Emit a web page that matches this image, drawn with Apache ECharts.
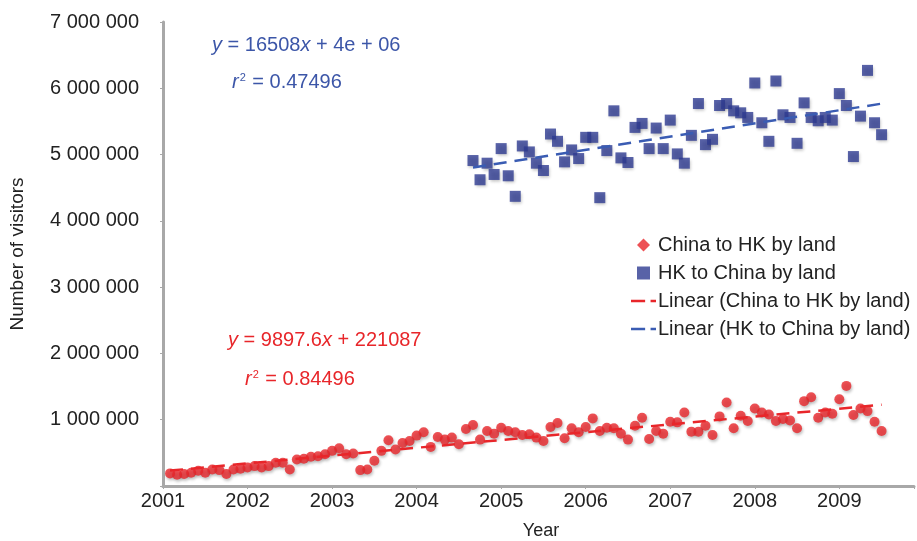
<!DOCTYPE html>
<html>
<head>
<meta charset="utf-8">
<script src="https://cdn.jsdelivr.net/npm/echarts@6/dist/echarts.min.js"></script>
<style>
html,body{margin:0;padding:0;background:#fff;}
#chart{width:917px;height:541px;}
</style>
</head>
<body>
<div id="chart"></div>
<script>
// Month index 1 = January 2001
const chinaStartMonth = 1;
const chinaToHK = [
  190000,170000,180000,200000,230000,200000,250000,240000,180000,250000,260000,280000,
  300000,280000,300000,350000,350000,250000,400000,410000,440000,450000,480000,530000,
  570000,480000,490000,240000,250000,380000,530000,690000,550000,650000,680000,760000,
  810000,590000,740000,700000,730000,630000,860000,920000,700000,830000,790000,880000,
  830000,810000,770000,780000,730000,680000,890000,950000,720000,870000,810000,890000,
  1020000,830000,880000,870000,790000,700000,910000,1030000,710000,830000,790000,970000,
  960000,1110000,820000,820000,910000,770000,1050000,1260000,870000,1060000,980000,1170000,
  1110000,1080000,980000,1010000,990000,870000,1280000,1340000,1030000,1110000,1090000,1310000,
  1510000,1070000,1170000,1130000,970000,830000
];
const hkStartMonth = 44;
const hkToChina = [
  4910000,4620000,4870000,4700000,5090000,4680000,4370000,5130000,5040000,4870000,
  4760000,5310000,5200000,4890000,5070000,4940000,5260000,5260000,4350000,5060000,
  5660000,4950000,4880000,5410000,5470000,5090000,5400000,5090000,5520000,5010000,
  4870000,5290000,5770000,5150000,5230000,5740000,5770000,5660000,5630000,5560000,
  6080000,5480000,5200000,6110000,5600000,5560000,5170000,5780000,5560000,5510000,
  5560000,5520000,5920000,5740000,4970000,5580000,6270000,5480000,5300000
];
const yearLabels = ['2001','2002','2003','2004','2005','2006','2007','2008','2009'];
const seriesNames = ['China to HK by land','HK to China by land','Linear (China to HK by land)','Linear (HK to China by land)'];
const eqRed = ['9897.6', '221087', '0.84496'];
const eqBlue = ['16508', '4e + 06', '0.47496'];

function toPoints(start, vals){ return vals.map((v,i)=>[start+i, v]); }
function trend(points){
  const n = points.length;
  let sx=0, sy=0, sxx=0, sxy=0;
  points.forEach(p=>{sx+=p[0]; sy+=p[1]; sxx+=p[0]*p[0]; sxy+=p[0]*p[1];});
  const b = (n*sxy - sx*sy)/(n*sxx - sx*sx);
  const a = (sy - b*sx)/n;
  const x0 = points[0][0], x1 = points[n-1][0];
  return [[x0, a+b*x0],[x1, a+b*x1]];
}
const redPts = toPoints(chinaStartMonth, chinaToHK);
const bluePts = toPoints(hkStartMonth, hkToChina);

const RED = '#e8262a', BLUE = '#2e3b91', BLUE_LINE = '#3a5cb3', BLUE_TXT = '#3c56a8';
const FONT = '"Liberation Sans", Arial, sans-serif';
const shadow = {shadowColor:'rgba(0,0,0,0.3)', shadowBlur:3, shadowOffsetX:1, shadowOffsetY:2};
const DASH_ICON = 'path://M0,0 H13 V2.4 H0 Z M18,0 H23 V2.4 H18 Z';

const chart = echarts.init(document.getElementById('chart'), null, {renderer:'canvas'});
const eqRich = (color)=>({
  i:{fontStyle:'italic', fontSize:20, fontFamily:FONT, fill:color},
  n:{fontSize:20, fontFamily:FONT, fill:color},
  s:{fontSize:11, fontFamily:FONT, fill:color, verticalAlign:'top', padding:[0,1,9,1]}
});
chart.setOption({
  animation:false,
  textStyle:{fontFamily:FONT},
  grid:{left:163, right:2, top:22, bottom:55},
  xAxis:{
    type:'value', min:0, max:106.6, interval:12,
    axisLine:{show:true, lineStyle:{color:'#a8a8a8', width:3}},
    axisTick:{show:true, length:3, lineStyle:{color:'#a8a8a8', width:1}},
    splitLine:{show:false},
    axisLabel:{margin:5, fontSize:20, color:'#222', fontFamily:FONT,
      formatter:(v)=> (Math.abs(v % 12) < 1e-6 && yearLabels[v/12]) ? yearLabels[v/12] : ''}
  },
  yAxis:{
    type:'value', min:0, max:7000000, interval:1000000,
    axisLine:{show:true, lineStyle:{color:'#a8a8a8', width:3}},
    axisTick:{show:true, length:3, lineStyle:{color:'#a8a8a8', width:1}},
    splitLine:{show:false},
    axisLabel:{margin:24, fontSize:20, color:'#222', fontFamily:FONT,
      formatter:(v)=> v===0 ? '' : String(v).replace(/\B(?=(\d{3})+(?!\d))/g,' ')}
  },
  legend:{
    orient:'vertical', left:626, top:230, itemWidth:25, itemHeight:13, itemGap:8,
    symbolKeepAspect:true,
    textStyle:{fontSize:20, color:'#222', fontFamily:FONT, lineHeight:20, padding:[0,0,0,-3]},
    data:[
      {name:seriesNames[0], icon:'path://M5,0 L10,5 L5,10 L0,5 Z'},
      {name:seriesNames[1], icon:'path://M0,0 H10 V10 H0 Z'},
      {name:seriesNames[2], icon:DASH_ICON},
      {name:seriesNames[3], icon:DASH_ICON}
    ]
  },
  graphic:[
    {type:'text', silent:true, x:18, y:254, rotation:Math.PI/2,
      style:{text:'Number of visitors', fontSize:19, fontFamily:FONT, fill:'#222', align:'center', verticalAlign:'middle'}},
    {type:'text', silent:true, x:541, y:531,
      style:{text:'Year', fontSize:18, fontFamily:FONT, fill:'#222', align:'center', verticalAlign:'middle'}},
    {type:'text', silent:true, x:212, y:45,
      style:{text:'{i|y}{n| = '+eqBlue[0]+'}{i|x}{n| + '+eqBlue[1]+'}', rich:eqRich(BLUE_TXT), verticalAlign:'middle'}},
    {type:'text', silent:true, x:232, y:82,
      style:{text:'{i|r}{s|2}{n| = '+eqBlue[2]+'}', rich:eqRich(BLUE_TXT), verticalAlign:'middle'}},
    {type:'text', silent:true, x:228, y:340,
      style:{text:'{i|y}{n| = '+eqRed[0]+'}{i|x}{n| + '+eqRed[1]+'}', rich:eqRich(RED), verticalAlign:'middle'}},
    {type:'text', silent:true, x:245, y:379,
      style:{text:'{i|r}{s|2}{n| = '+eqRed[2]+'}', rich:eqRich(RED), verticalAlign:'middle'}}
  ],
  series:[
    {name:seriesNames[0], type:'scatter', data:redPts, symbol:'circle', symbolSize:10,
      itemStyle:Object.assign({color:RED}, shadow), z:2},
    {name:seriesNames[1], type:'scatter', data:bluePts, symbol:'rect', symbolSize:11,
      itemStyle:Object.assign({color:BLUE}, shadow), z:2},
    {name:seriesNames[2], type:'line', data:trend(redPts), symbol:'none', silent:true,
      lineStyle:{color:'#e8262a', width:2.5, type:[13,8]}, itemStyle:{color:'#e8262a'}, z:5},
    {name:seriesNames[3], type:'line', data:trend(bluePts), symbol:'none', silent:true,
      lineStyle:{color:BLUE_LINE, width:2.5, type:[13,8]}, itemStyle:{color:BLUE_LINE}, z:5}
  ]
});
</script>
</body>
</html>
